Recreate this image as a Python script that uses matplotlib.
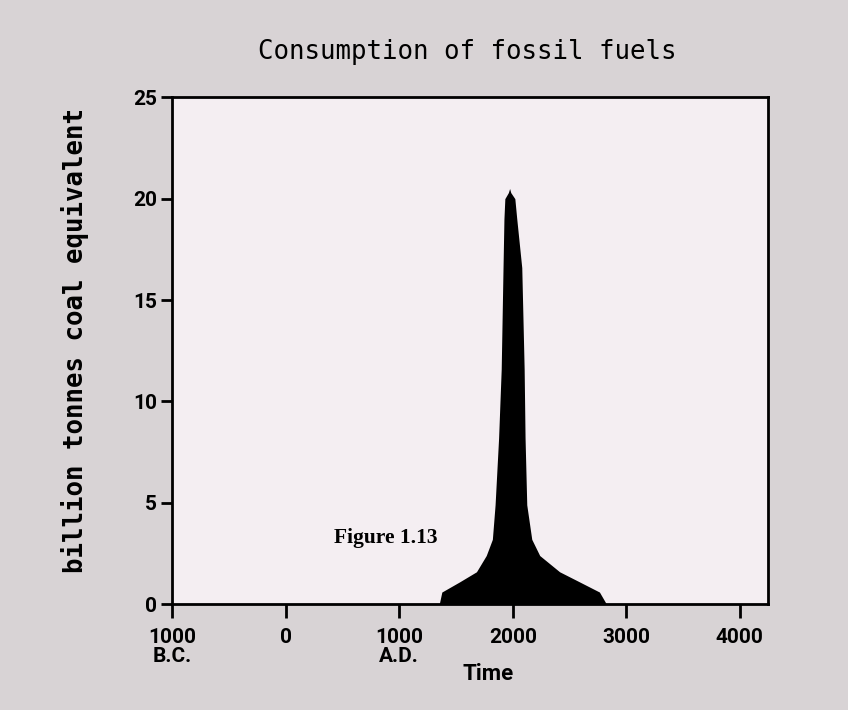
import numpy as np
import matplotlib
matplotlib.use("Agg")
import matplotlib.pyplot as plt

# values (years, billion tonnes coal equivalent)
years = [1352, 1375, 1531, 1680, 1766, 1820, 1844, 1875, 1898, 1914, 1922,
         1930, 1961, 1972, 1982, 2018, 2035, 2079, 2100, 2108, 2123, 2167,
         2237, 2412, 2588, 2763, 2825]
consumption = [0, 0.6, 1.1, 1.6, 2.4, 3.2, 4.9, 8.2, 11.6, 16.6, 19.0,
               20.0, 20.3, 20.5, 20.3, 20.0, 19.0, 16.6, 11.6, 8.2, 4.9, 3.2,
               2.4, 1.6, 1.1, 0.6, 0]

x_ticks = [-1000, 0, 1000, 2000, 3000, 4000]
x_labels = ["1000\nB.C.", "0", "1000\nA.D.", "2000", "3000", "4000"]
y_ticks = [0, 5, 10, 15, 20, 25]

tick_font = ["Roboto"]
mono_font = ["DejaVu Sans Mono"]

fig = plt.figure(figsize=(8.48, 7.10), dpi=100)
fig.patch.set_facecolor("#d8d3d5")
ax = fig.add_axes([0.203, 0.149, 0.703, 0.714])
ax.set_facecolor("#f4eef2")

ax.fill_between(years, consumption, 0, color="black", lw=0)

ax.set_xlim(-1000, 4250)
ax.set_ylim(0, 25)

ax.set_xticks(x_ticks)
ax.set_xticklabels(x_labels, fontfamily=tick_font, fontweight="bold",
                   fontsize=15, linespacing=1.0)
ax.set_yticks(y_ticks)
ax.set_yticklabels([str(v) for v in y_ticks], fontfamily=tick_font,
                   fontweight="bold", fontsize=15)
ax.tick_params(axis="x", direction="out", length=10, width=2, pad=7)
ax.tick_params(axis="y", direction="out", length=8, width=2, pad=3)

for s in ax.spines.values():
    s.set_linewidth(2)
    s.set_color("black")

ax.set_ylabel("billion tonnes coal equivalent", fontfamily=mono_font,
              fontweight="bold", fontsize=18.5)
ax.yaxis.set_label_coords(-0.14, 0.52)

ax.set_xlabel("Time", fontfamily=tick_font, fontweight="bold", fontsize=16)
ax.xaxis.set_label_coords(0.53, -0.115)

fig.text(0.551, 1 - 52 / 710, "Consumption of fossil fuels",
         fontfamily=mono_font, fontsize=18.5, ha="center", va="center")

ax.text(0.359, 0.13, "Figure 1.13", transform=ax.transAxes,
        fontfamily=["Liberation Serif", "DejaVu Serif"], fontweight="bold",
        fontsize=15.5, ha="center", va="center")

fig.savefig("out.png", dpi=100, facecolor=fig.get_facecolor())
